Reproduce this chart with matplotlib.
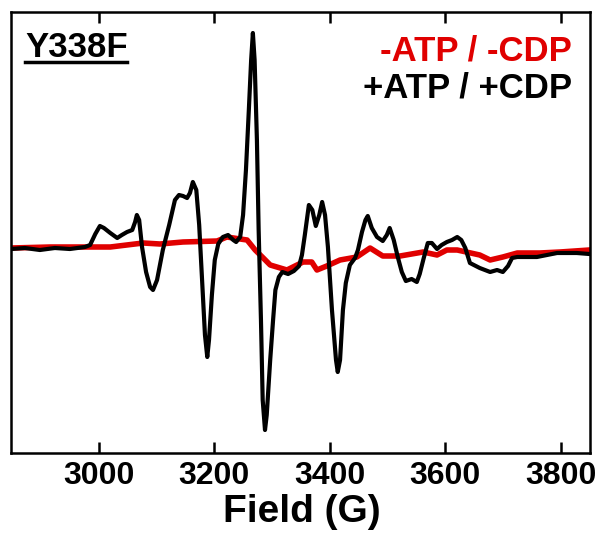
import matplotlib
matplotlib.use("Agg")
import matplotlib.pyplot as plt
from matplotlib.lines import Line2D

plt.rcParams['font.family'] = ['Liberation Sans', 'DejaVu Sans']
plt.rcParams['font.weight'] = 'bold'

# Field (G) and intensity (arb. units) for +ATP / +CDP
field_black = [2848, 2872, 2898, 2924, 2950, 2976, 2985, 2994, 3002, 3009, 3020, 3032,
               3040, 3049, 3058, 3063, 3066, 3070, 3075, 3082, 3089, 3094, 3101, 3111,
               3122, 3132, 3139, 3146, 3153, 3158, 3163, 3169, 3174, 3179, 3184, 3188,
               3191, 3196, 3201, 3207, 3215, 3224, 3233, 3238, 3245, 3250, 3255, 3260,
               3264, 3267, 3270, 3274, 3277, 3281, 3284, 3288, 3291, 3297, 3302, 3306,
               3312, 3318, 3328, 3338, 3347, 3352, 3357, 3364, 3370, 3376, 3382, 3387,
               3392, 3397, 3404, 3411, 3414, 3418, 3423, 3428, 3435, 3444, 3449, 3456,
               3462, 3466, 3473, 3482, 3492, 3499, 3504, 3511, 3518, 3525, 3532, 3542,
               3551, 3556, 3563, 3570, 3577, 3586, 3594, 3603, 3612, 3621, 3628, 3635,
               3643, 3660, 3678, 3690, 3700, 3709, 3716, 3725, 3759, 3794, 3828, 3850]
int_black = [-2, -1, -3, -1, -2, 0, 2, 13, 21, 19, 14, 9,
             12, 15, 17, 25, 32, 27, 0, -25, -40, -43, -33, -3,
             22, 47, 52, 51, 49, 54, 65, 57, 22, -33, -88, -110,
             -93, -48, -13, 3, 10, 12, 7, 5, 10, 32, 77, 137,
             187, 214, 187, 107, 17, -73, -153, -183, -168, -113, -73, -43,
             -30, -25, -27, -24, -19, -8, 12, 42, 37, 21, 32, 45,
             32, 0, -63, -113, -125, -113, -63, -36, -18, -11, -3, 15,
             27, 31, 19, 10, 6, 12, 19, 7, -10, -25, -34, -32,
             -35, -27, -11, 4, 4, -2, 2, 5, 7, 10, 7, -1,
             -16, -21, -25, -23, -25, -19, -11, -10, -10, -6, -6, -7]

# Field (G) and intensity for -ATP / -CDP
field_red = [2848, 2916, 2985, 3020, 3077, 3106, 3146, 3205, 3222, 3245, 3257, 3271,
             3285, 3297, 3326, 3354, 3369, 3378, 3395, 3418, 3447, 3470, 3492, 3522,
             3562, 3586, 3603, 3621, 3660, 3678, 3700, 3725, 3764, 3799, 3850]
int_red = [-1, 0, 0, 0, 4, 3, 5, 6, 10, 8, 7, -3,
           -11, -18, -23, -15, -15, -23, -19, -13, -10, -1, -9, -9,
           -5, -8, -3, -3, -8, -13, -10, -6, -6, -5, -3]

xticks = [3000, 3200, 3400, 3600, 3800]
label_red = "-ATP / -CDP"
label_black = "+ATP / +CDP"
sample = "Y338F"

fig = plt.figure(figsize=(6.01, 5.36), dpi=100)
ax = fig.add_axes([11/601, 1-453/536, 579/601, 441/536])

ax.plot(field_red, int_red, color='#E00000', lw=4.0, solid_joinstyle='round')
ax.plot(field_black, int_black, color='black', lw=3.0, solid_joinstyle='round')

ax.set_xlim(2848, 3851)
ax.set_ylim(-206, 235)
ax.set_yticks([])
ax.set_xticks(xticks)
ax.set_xticklabels([str(t) for t in xticks], fontsize=23, fontweight='bold')
ax.tick_params(axis='x', direction='in', top=True, bottom=True, length=8, width=1.8, pad=6)
for s in ax.spines.values():
    s.set_linewidth(1.8)

fig.text(0.502, 1-522/536, "Field (G)", fontsize=28, fontweight='bold',
         ha='center', va='baseline')

ax.text(0.024, 0.898, sample, transform=ax.transAxes, fontsize=25, fontweight='bold',
        ha='left', va='baseline')
ax.add_line(Line2D([0.024, 0.200], [0.887, 0.887], transform=ax.transAxes,
                   color='black', lw=2.5))

ax.text(0.969, 0.891, label_red, transform=ax.transAxes, fontsize=25, fontweight='bold',
        ha='right', va='baseline', color='#E00000')
ax.text(0.969, 0.805, label_black, transform=ax.transAxes, fontsize=25, fontweight='bold',
        ha='right', va='baseline', color='black')

fig.savefig("out.png", dpi=100)
